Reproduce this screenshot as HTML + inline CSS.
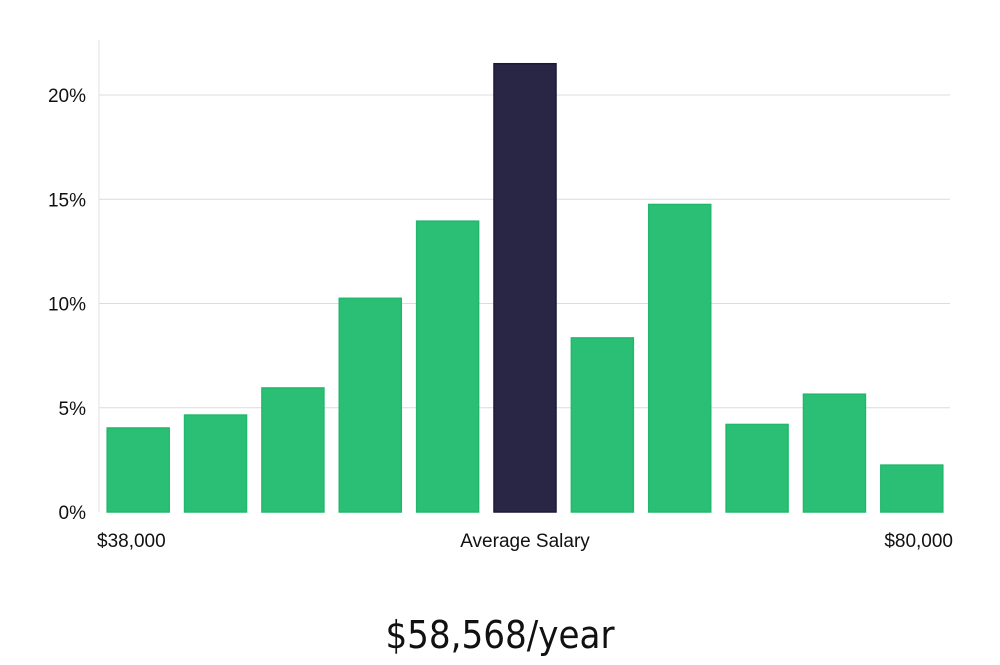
<!DOCTYPE html>
<html><head><meta charset="utf-8"><style>
body{margin:0;background:#fff;width:1000px;height:660px;overflow:hidden;font-family:"Liberation Sans","DejaVu Sans",sans-serif;}
</style></head><body>
<svg id="chart" width="1000" height="660" xmlns="http://www.w3.org/2000/svg">
<g id="grid"></g>
<g id="bars"></g>
<g id="yt"></g>
<line x1="99" y1="40" x2="99" y2="512" stroke="#e2e2e2" stroke-width="1"/>
<text x="97" y="547" font-size="19" fill="#111">$38,000</text>
<text x="525" y="547" font-size="19" fill="#111" text-anchor="middle">Average Salary</text>
<text x="953" y="547" font-size="19" fill="#111" text-anchor="end">$80,000</text>
<text x="500" y="648" font-size="38" fill="#111" text-anchor="middle" font-family="DejaVu Sans Condensed, Liberation Sans Narrow, sans-serif" font-weight="300">$58,568/year</text>
</svg>
<script>
const categories=["b1","b2","b3","b4","b5","b6","b7","b8","b9","b10","b11"];
const values=[4.03,4.65,5.95,10.25,13.95,21.5,8.35,14.75,4.2,5.65,2.25];
const highlightIndex=5;
const yTicks=[0,5,10,15,20];
const yLabels=["0%","5%","10%","15%","20%"];
const NS="http://www.w3.org/2000/svg";
const x0=99,x1=950,y0=512,yTop=95;
const yScale=v=>y0-(v/20)*(y0-yTop);
const band=(x1-x0)/categories.length;
const g=document.getElementById('grid'),b=document.getElementById('bars'),t=document.getElementById('yt');
yTicks.forEach((v,i)=>{
  const y=yScale(v);
  if(v>0){const l=document.createElementNS(NS,'line');
  
  
  l.setAttribute('x1',x0);l.setAttribute('x2',x1);l.setAttribute('y1',y);l.setAttribute('y2',y);
  l.setAttribute('stroke','#dcdcdc');g.appendChild(l);}
  const tx=document.createElementNS(NS,'text');
  
  
  tx.setAttribute('x',86);tx.setAttribute('y',y+7);tx.setAttribute('text-anchor','end');
  tx.setAttribute('font-size','19');tx.setAttribute('fill','#111');tx.textContent=yLabels[i];t.appendChild(tx);
});
values.forEach((v,i)=>{
  const r=document.createElementNS(NS,'rect');
  
  
  const w=62,x=x0+band*i+(band-w)/2+0.5,y=yScale(v);
  r.setAttribute('x',x);r.setAttribute('y',y);r.setAttribute('width',w);r.setAttribute('height',y0-y);
  const hi=i===highlightIndex;
  r.setAttribute('fill',hi?'#282545':'#2bbf76');
  r.setAttribute('stroke',hi?'#1a1838':'#22b86c');r.setAttribute('stroke-width','1.5');
  b.appendChild(r);
});
</script>
</body></html>
